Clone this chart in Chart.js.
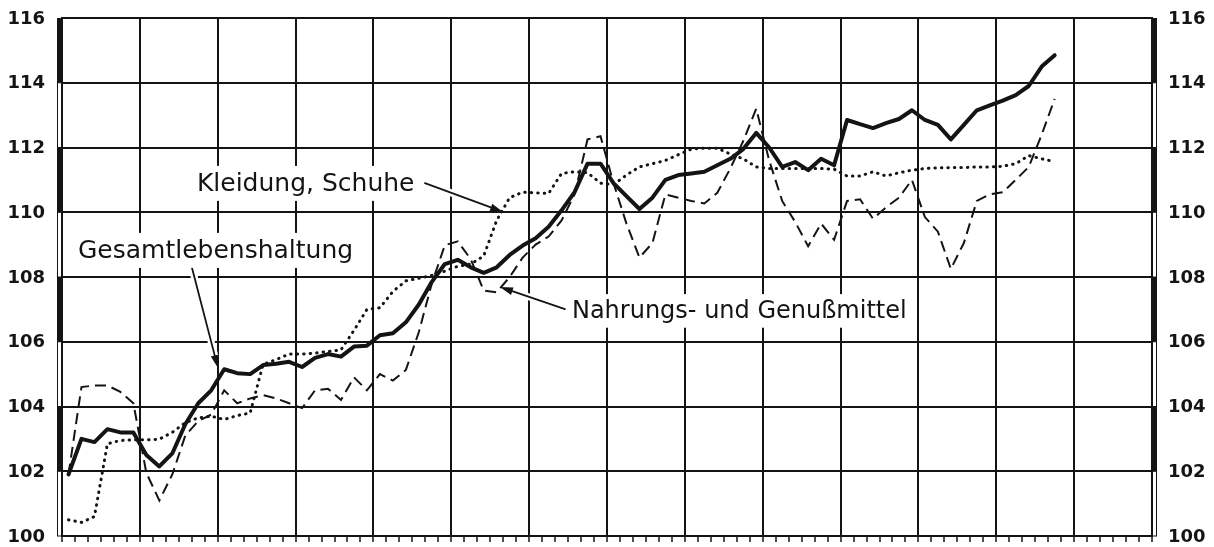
<!DOCTYPE html>
<html lang="de">
<head>
<meta charset="utf-8">
<title>Preisindex für die Lebenshaltung</title>
<script src="https://cdn.jsdelivr.net/npm/chart.js@4.4.1/dist/chart.umd.min.js"></script>
<style>
  html, body { margin: 0; padding: 0; background: #ffffff; }
  #chart-wrap { width: 1214px; height: 547px; }
</style>
</head>
<body>
<div id="chart-wrap"><canvas id="index-chart" width="1214" height="547"></canvas></div>
<script>
// Monatswerte (ein Wert je Monat)
const gesamtValues = [
  101.9, 103.0, 102.9, 103.3, 103.2, 103.2, 102.5, 102.15, 102.55, 103.45, 104.1, 104.5,
  105.15, 105.03, 105.0, 105.28, 105.32, 105.38, 105.22, 105.5, 105.62, 105.54, 105.85, 105.88,
  106.2, 106.26, 106.6, 107.15, 107.85, 108.4, 108.53, 108.3, 108.13, 108.3, 108.68, 108.97,
  109.2, 109.55, 110.06, 110.62, 111.5, 111.5, 110.9, 110.5, 110.1, 110.45, 111.0, 111.15,
  111.2, 111.25, 111.45, 111.65, 111.95, 112.45, 112.0, 111.4, 111.55, 111.3, 111.65, 111.45,
  112.85, 112.72, 112.6, 112.75, 112.88, 113.15, 112.85, 112.7, 112.25, 112.7, 113.15, 113.3,
  113.45, 113.62, 113.9, 114.5, 114.85
];

const nahrungValues = [
  101.9, 104.6, 104.65, 104.65, 104.45, 104.1, 101.95, 101.1, 101.9, 103.1, 103.55, 103.75,
  104.5, 104.1, 104.25, 104.35, 104.25, 104.1, 103.95, 104.5, 104.55, 104.2, 104.9, 104.5,
  105.0, 104.8, 105.13, 106.3, 107.8, 108.98, 109.1, 108.55, 107.58, 107.53, 108.0, 108.6,
  109.0, 109.25, 109.75, 110.55, 112.25, 112.35, 110.9, 109.65, 108.6, 109.05, 110.55, 110.45,
  110.35, 110.27, 110.6, 111.35, 112.2, 113.2, 111.6, 110.35, 109.7, 108.95, 109.65, 109.15,
  110.35, 110.4, 109.8, 110.15, 110.45, 111.0, 109.85, 109.4, 108.25, 109.05, 110.35, 110.55,
  110.62, 111.0, 111.4, 112.4, 113.5
];

const kleidungValues = [
  100.5, 100.42, 100.6, 102.85, 102.95, 102.97, 102.97, 102.99, 103.2, 103.5, 103.65, 103.7,
  103.6, 103.72, 103.8, 105.3, 105.45, 105.62, 105.62, 105.65, 105.7, 105.75, 106.35, 107.0,
  107.05, 107.55, 107.88, 107.96, 108.05, 108.18, 108.33, 108.4, 108.65, 109.75, 110.45, 110.62,
  110.6, 110.58, 111.2, 111.25, 111.22, 110.9, 110.85, 111.15, 111.4, 111.5, 111.6, 111.78,
  111.95, 111.98, 111.98, 111.8, 111.65, 111.4, 111.35, 111.35, 111.35, 111.35, 111.35, 111.33,
  111.12, 111.12, 111.25, 111.12, 111.22, 111.3, 111.35, 111.37, 111.38, 111.38, 111.4, 111.4,
  111.42, 111.5, 111.75, 111.65, 111.56
];

const yTickValues = [100, 102, 104, 106, 108, 110, 112, 114, 116];
const monthCount = 84;
const monthsPerGridCell = 6;

// Beschriftungen in Achseneinheiten (Monat, Indexwert)
const noteTexts = [
  { text: "Kleidung, Schuhe", x: 10.4, y: 110.66, size: 25 },
  { text: "Gesamtlebenshaltung", x: 1.23, y: 108.59, size: 25 },
  { text: "Nahrungs- und Genußmittel", x: 39.3, y: 106.73, size: 24 }
];

const noteArrows = [
  { from: [27.97, 110.9], to: [33.99, 110.01] },
  { from: [9.94, 108.4], to: [12.02, 105.19] },
  { from: [38.76, 107.01], to: [33.75, 107.69] }
];

const INK = "#141414";
const FONT_FAMILY = "'DejaVu Sans', 'Liberation Sans', sans-serif";

function toPoints(values) {
  return values.map((value, index) => ({ x: index + 0.5, y: value }));
}

// Schwarz-weiße Randleiste links und rechts, je 2 Indexpunkte
const edgeBandPlugin = {
  id: "edgeBand",
  afterDraw(chart) {
    const { ctx, chartArea, scales } = chart;
    const bandWidth = 5;

    ctx.save();
    for (let k = 0; k < yTickValues.length - 1; k++) {
      const yBottom = scales.y.getPixelForValue(yTickValues[k]);
      const yTop = scales.y.getPixelForValue(yTickValues[k + 1]);
      const filled = k % 2 === 1;

      [chartArea.left - bandWidth, chartArea.right].forEach((bandLeft) => {
        if (filled) {
          ctx.fillStyle = INK;
          ctx.fillRect(bandLeft, yTop, bandWidth, yBottom - yTop);
        } else {
          ctx.strokeStyle = INK;
          ctx.lineWidth = 1;
          ctx.strokeRect(bandLeft + 0.5, yTop, bandWidth - 1, yBottom - yTop);
        }
      });
    }
    ctx.restore();
  }
};

// Skalenzahlen links und rechts an den Werten der y-Achse
const sideLabelsPlugin = {
  id: "sideLabels",
  afterDraw(chart) {
    const { ctx, chartArea, scales } = chart;

    ctx.save();
    ctx.fillStyle = INK;
    ctx.font = `bold 18px ${FONT_FAMILY}`;
    ctx.textBaseline = "middle";

    scales.y.ticks.forEach((tick) => {
      const y = scales.y.getPixelForValue(tick.value);
      ctx.textAlign = "right";
      ctx.fillText(String(tick.value), chartArea.left - 17, y + 1);
      ctx.textAlign = "left";
      ctx.fillText(String(tick.value), chartArea.right + 16, y + 1);
    });
    ctx.restore();
  }
};

const notesPlugin = {
  id: "notes",
  afterDatasetsDraw(chart) {
    const { ctx, scales } = chart;
    const px = (x) => scales.x.getPixelForValue(x);
    const py = (y) => scales.y.getPixelForValue(y);

    ctx.save();

    noteArrows.forEach((arrow) => {
      const x1 = px(arrow.from[0]);
      const y1 = py(arrow.from[1]);
      const x2 = px(arrow.to[0]);
      const y2 = py(arrow.to[1]);
      const angle = Math.atan2(y2 - y1, x2 - x1);
      const headLength = 13;
      const headHalf = 4;
      const baseX = x2 - headLength * Math.cos(angle);
      const baseY = y2 - headLength * Math.sin(angle);

      ctx.lineCap = "round";
      ctx.strokeStyle = "#ffffff";
      ctx.lineWidth = 7;
      ctx.beginPath();
      ctx.moveTo(x1, y1);
      ctx.lineTo(baseX, baseY);
      ctx.stroke();

      ctx.strokeStyle = INK;
      ctx.lineWidth = 1.8;
      ctx.beginPath();
      ctx.moveTo(x1, y1);
      ctx.lineTo(baseX, baseY);
      ctx.stroke();

      ctx.fillStyle = INK;
      ctx.beginPath();
      ctx.moveTo(x2, y2);
      ctx.lineTo(baseX + headHalf * Math.sin(angle), baseY - headHalf * Math.cos(angle));
      ctx.lineTo(baseX - headHalf * Math.sin(angle), baseY + headHalf * Math.cos(angle));
      ctx.closePath();
      ctx.fill();
    });

    noteTexts.forEach((note) => {
      const x = px(note.x);
      const y = py(note.y);
      ctx.font = `${note.size}px ${FONT_FAMILY}`;
      const width = ctx.measureText(note.text).width;

      ctx.fillStyle = "#ffffff";
      ctx.fillRect(x - 6, y - note.size * 1.0, width + 12, note.size * 1.4);

      ctx.fillStyle = INK;
      ctx.textAlign = "left";
      ctx.textBaseline = "alphabetic";
      ctx.fillText(note.text, x, y);
    });

    ctx.restore();
  }
};

const valueAxis = (position) => ({
  type: "linear",
  position,
  min: yTickValues[0],
  max: yTickValues[yTickValues.length - 1],
  afterBuildTicks(scale) {
    scale.ticks = yTickValues.map((value) => ({ value }));
  },
  afterFit(scale) {
    scale.width = 62;
  },
  grid: {
    display: position === "left",
    drawOnChartArea: position === "left",
    drawTicks: false,
    color: INK,
    lineWidth: 2
  },
  border: {
    display: true,
    color: INK,
    width: 2
  },
  ticks: {
    display: false
  }
});

new Chart(document.getElementById("index-chart"), {
  type: "line",
  data: {
    datasets: [
      {
        label: "Gesamtlebenshaltung",
        data: toPoints(gesamtValues),
        borderColor: INK,
        borderWidth: 4,
        borderJoinStyle: "round",
        borderCapStyle: "round",
        pointRadius: 0,
        tension: 0
      },
      {
        label: "Nahrungs- und Genußmittel",
        data: toPoints(nahrungValues),
        borderColor: INK,
        borderWidth: 2,
        borderDash: [11, 6],
        pointRadius: 0,
        tension: 0
      },
      {
        label: "Kleidung, Schuhe",
        data: toPoints(kleidungValues),
        borderColor: INK,
        borderWidth: 3,
        borderDash: [0.5, 6],
        borderCapStyle: "round",
        pointRadius: 0,
        tension: 0
      }
    ]
  },
  options: {
    responsive: false,
    devicePixelRatio: 1,
    animation: false,
    layout: {
      padding: { top: 18, left: 0, right: 0, bottom: 0 }
    },
    plugins: {
      legend: { display: false },
      tooltip: { enabled: false }
    },
    scales: {
      x: {
        type: "linear",
        min: 0,
        max: monthCount,
        afterFit(scale) {
          scale.height = 11;
        },
        ticks: {
          display: false,
          stepSize: 1,
          autoSkip: false
        },
        grid: {
          drawTicks: true,
          tickLength: 6,
          tickWidth: 1.5,
          tickColor: INK,
          lineWidth: 2,
          color(context) {
            const value = context.tick ? context.tick.value : 0;
            return value % monthsPerGridCell === 0 ? INK : "rgba(0,0,0,0)";
          }
        },
        border: {
          display: true,
          color: INK,
          width: 2
        }
      },
      y: valueAxis("left"),
      y2: valueAxis("right")
    }
  },
  plugins: [edgeBandPlugin, sideLabelsPlugin, notesPlugin]
});
</script>
</body>
</html>
